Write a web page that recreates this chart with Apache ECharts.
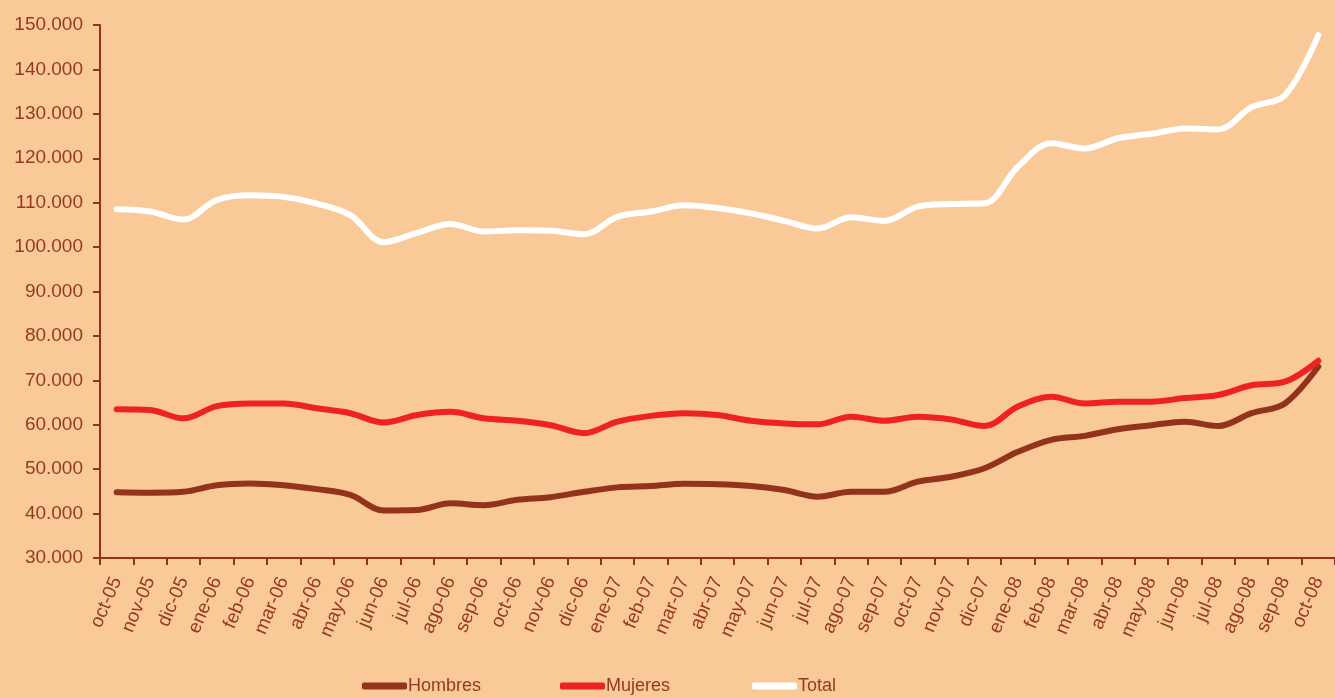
<!DOCTYPE html>
<html>
<head>
<meta charset="utf-8">
<script src="https://cdn.jsdelivr.net/npm/echarts@6/dist/echarts.min.js"></script>
<style>
html,body{margin:0;padding:0;background:#F9CA98;}
#chart{width:1335px;height:698px;}
</style>
</head>
<body>
<div id="chart"></div>
<script>
const categories = ['oct-05','nov-05','dic-05','ene-06','feb-06','mar-06','abr-06','may-06','jun-06','jul-06','ago-06','sep-06','oct-06','nov-06','dic-06','ene-07','feb-07','mar-07','abr-07','may-07','jun-07','jul-07','ago-07','sep-07','oct-07','nov-07','dic-07','ene-08','feb-08','mar-08','abr-08','may-08','jun-08','jul-08','ago-08','sep-08','oct-08'];
const hombres = [44800,44700,44900,46400,46800,46400,45500,44200,40700,40800,42300,41900,43100,43700,44900,45900,46200,46700,46600,46200,45300,43800,44900,44900,47200,48300,50200,53900,56600,57500,59000,59900,60700,59700,62600,64800,73100];
const mujeres = [63500,63300,61450,64200,64800,64800,63700,62600,60500,62200,62900,61450,60900,59900,58100,60700,62000,62600,62200,60900,60300,60100,61800,60900,61800,61200,59700,64100,66300,64800,65200,65200,66000,66700,68900,69700,74400];
const total = [108500,108000,106200,110600,111650,111300,109800,107200,101100,103200,105200,103500,103800,103700,102900,106800,108000,109400,108800,107600,105900,104200,106700,105900,109100,109700,109850,118100,123400,122200,124500,125500,126700,126500,131500,134200,147700];
const yTicks = {min:30000, max:150000, interval:10000};
const seriesNames = ['Hombres','Mujeres','Total'];

const brown = '#93321D';
const txt = '#97391F';
const font = 'Liberation Sans, Arial, sans-serif';
const chart = echarts.init(document.getElementById('chart'));
const lineSeries = (name, data, color) => ({
  name, type:'line', data, smooth:0.35, symbol:'none',
  lineStyle:{color, width:6, cap:'round', join:'round'},
  itemStyle:{color}
});
const legendAt = (name, left) => ({
  top:677, left, padding:0, itemWidth:45, itemHeight:7, icon:'roundRect',
  textStyle:{color:txt, fontSize:18, padding:[8,0,0,-4], fontFamily:font},
  data:[name]
});
chart.setOption({
  backgroundColor:'#F9CA98',
  animation:false,
  textStyle:{fontFamily:font},
  grid:{left:100, top:25, right:-5, bottom:140, containLabel:false},
  legend:[legendAt(seriesNames[0], 362), legendAt(seriesNames[1], 560), legendAt(seriesNames[2], 752)],
  xAxis:{
    type:'category', data:categories, boundaryGap:true,
    axisLine:{lineStyle:{color:brown, width:2}},
    axisTick:{show:true, length:7, lineStyle:{color:brown, width:2}, interval:0},
    axisLabel:{interval:0, rotate:67, color:txt, fontSize:19, margin:20, fontFamily:font},
    splitLine:{show:false}
  },
  yAxis:{
    type:'value', min:yTicks.min, max:yTicks.max, interval:yTicks.interval,
    axisLine:{show:true, lineStyle:{color:brown, width:2}},
    axisTick:{show:true, length:7, lineStyle:{color:brown, width:2}},
    axisLabel:{color:txt, fontSize:19, margin:17, fontFamily:font,
      formatter:v => String(v).replace(/\B(?=(\d{3})+(?!\d))/g,'.')},
    splitLine:{show:false}
  },
  series:[
    lineSeries(seriesNames[0], hombres, brown),
    lineSeries(seriesNames[1], mujeres, '#EE2224'),
    lineSeries(seriesNames[2], total, '#FFFFFF')
  ]
});
</script>
</body>
</html>
